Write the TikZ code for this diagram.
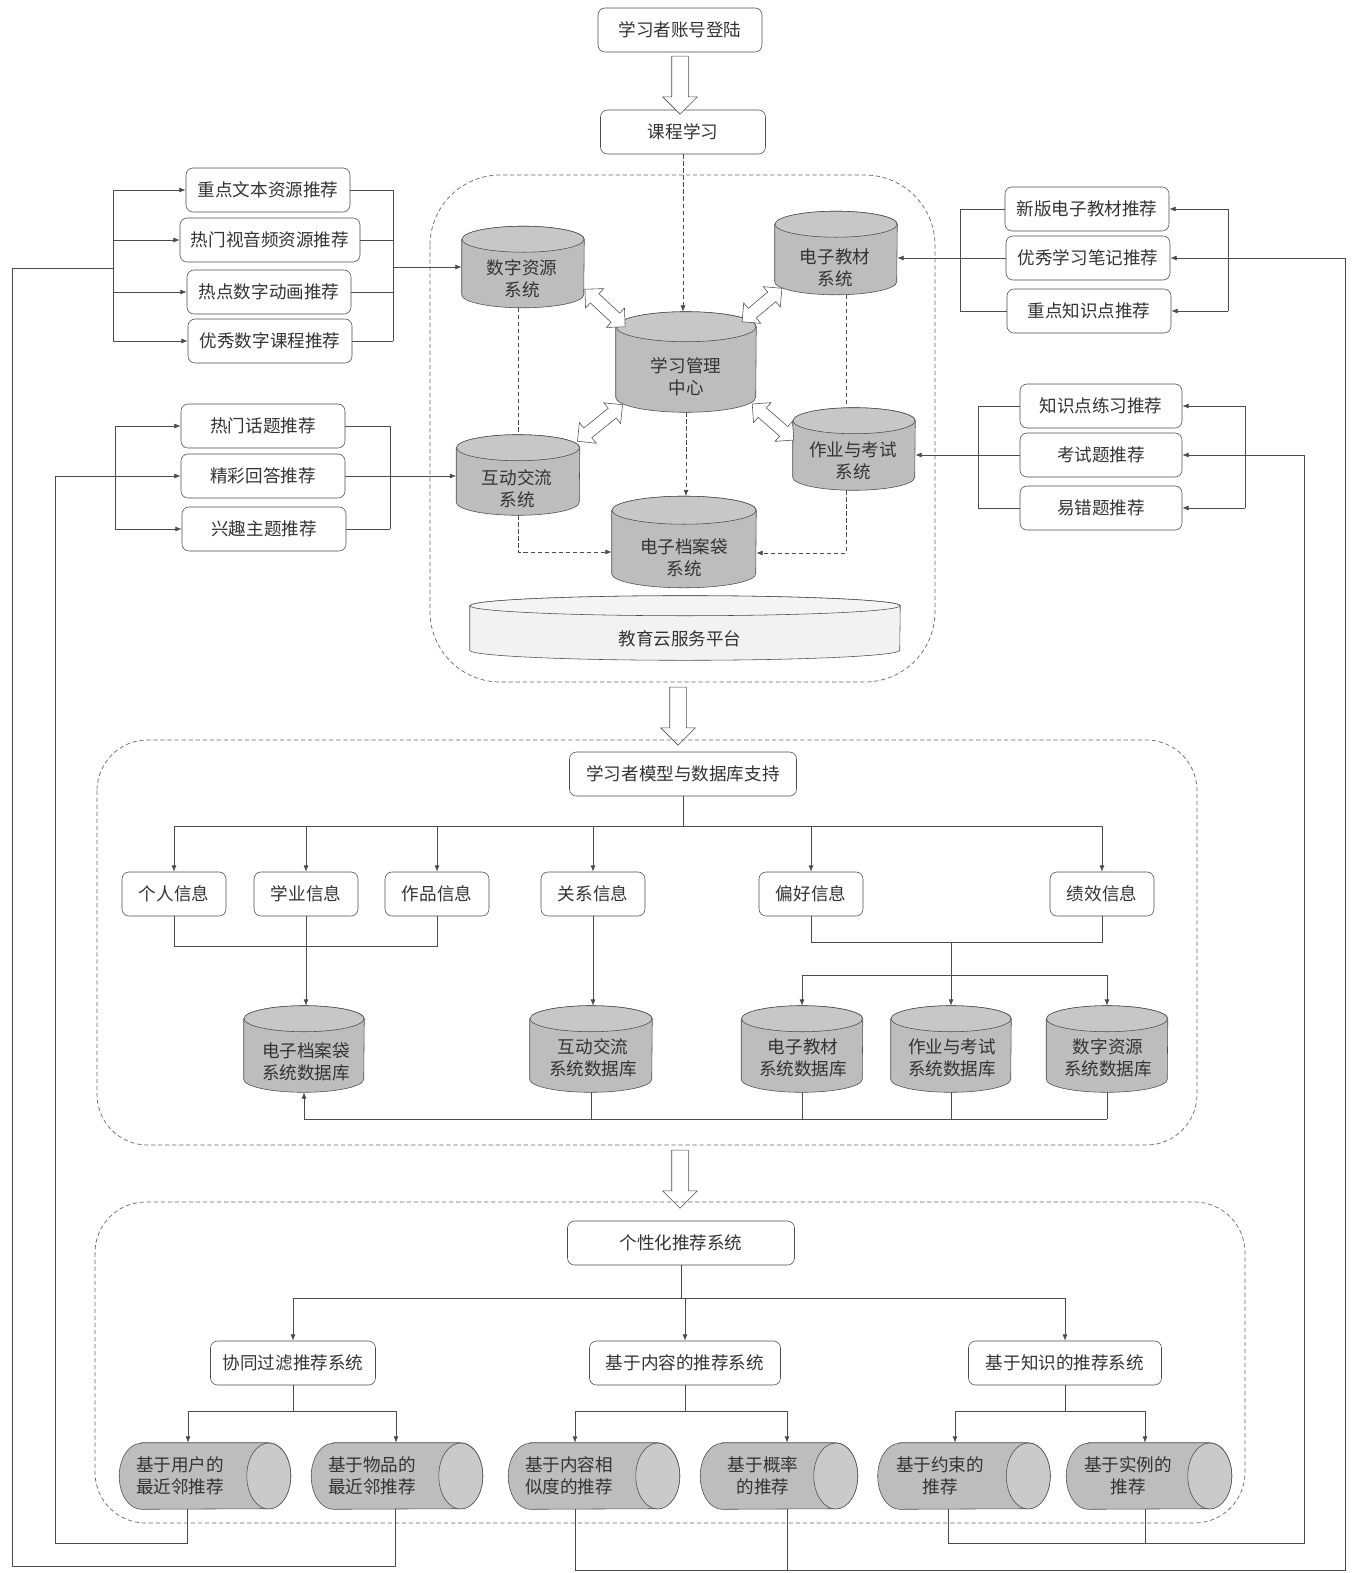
\documentclass[tikz,border=0pt]{standalone}
\usepackage{fontspec}
\setmainfont{Noto Sans CJK SC}
\usetikzlibrary{arrows.meta,shapes.arrows}

\def\pxu{0.025cm}
\definecolor{dbgray}{gray}{0.74}
\definecolor{platgray}{gray}{0.95}
\definecolor{lncol}{gray}{0.3}

% upright cylinder: name, x, y, width, height, radius of the top ellipse
\newcommand{\vcyl}[7][dbgray]{%
    \node[dbbox,minimum width=#5*\pxu,minimum height=#6*\pxu] (#2) at (#3,#4) {};
    \path[draw=lncol,fill=#1] ([yshift=-#7*\pxu]#2.north west) -- ([yshift=#7*\pxu]#2.south west)
        arc[start angle=180,end angle=360,x radius=#5/2*\pxu,y radius=#7*\pxu]
        -- ([yshift=-#7*\pxu]#2.north east)
        arc[start angle=0,end angle=180,x radius=#5/2*\pxu,y radius=#7*\pxu] -- cycle;
    \path[draw=lncol,fill=#1!85] ([yshift=-#7*\pxu]#2.north)
        ellipse[x radius=#5/2*\pxu,y radius=#7*\pxu];
}
% lying cylinder: name, x, y, width
\newcommand{\hcyl}[4]{%
    \node[dbbox,minimum width=#4*\pxu,minimum height=66*\pxu] (#1) at (#2,#3) {};
    \path[draw=lncol,fill=dbgray] ([xshift=22*\pxu]#1.north west) -- ([xshift=-22*\pxu]#1.north east)
        arc[start angle=90,end angle=-90,x radius=22*\pxu,y radius=33*\pxu]
        -- ([xshift=22*\pxu]#1.south west)
        arc[start angle=270,end angle=90,x radius=22*\pxu,y radius=33*\pxu] -- cycle;
    \path[draw=lncol,fill=dbgray!80] ([xshift=-22*\pxu]#1.east)
        ellipse[x radius=22*\pxu,y radius=33*\pxu];
}

\begin{document}
\begin{tikzpicture}[x=0.025cm,y=-0.025cm,
        font=\fontsize{12.5}{15.5}\selectfont,
        box/.style={draw=lncol,rounded corners=5pt,fill=white,text=black!80,
            minimum width=#1*\pxu,minimum height=44*\pxu,inner sep=0pt},
        box/.default=164,
        dbbox/.style={rectangle,inner sep=0pt},
        dbtext/.style={align=center,inner sep=0pt,text=black!80},
        line/.style={draw=lncol,line width=0.5pt},
        arr/.style={line,-{Latex[length=4.5pt,width=3.5pt]}},
        dsh/.style={dash pattern=on 3pt off 2pt},
        sec/.style={draw=black!60,line width=0.5pt,dash pattern=on 3pt off 2pt},
        bigarr/.style={single arrow,draw=lncol,fill=white,rotate=-90,inner xsep=0pt,
            inner ysep=8*\pxu,single arrow head extend=9*\pxu,minimum height=58*\pxu},
        dblarr/.style={double arrow,draw=lncol,fill=white,inner xsep=0pt,
            inner ysep=6*\pxu,double arrow head extend=7*\pxu,minimum height=#1*\pxu},
    ]
    \useasboundingbox (0,0) rectangle (1358,1573);

    % ---- part 1: learning platform
    \node[box] (dl) at (680,30) {学习者账号登陆};
    \node[box=165] (kc) at (683,132) {课程学习};
    \node[bigarr] (ar1) at (680,81) {};

    \draw[sec,rounded corners=50pt] (430,175) rectangle (935,682);

    \vcyl{szzy}{523}{267}{122}{81}{13}
    \node[dbtext] (szzy-t) at (522,279) {数字资源\\系统};
    \vcyl{dzjc}{836}{253}{122}{83}{13}
    \node[dbtext] (dzjc-t) at (835,268) {电子教材\\系统};
    \vcyl{xxgl}{686}{362}{140}{100}{15}
    \node[dbtext] (xxgl-t) at (686,377) {学习管理\\中心};
    \vcyl{hdjl}{518}{475}{123}{80}{13}
    \node[dbtext] (hdjl-t) at (517,489) {互动交流\\系统};
    \vcyl{zykz}{854}{449}{122}{82}{13}
    \node[dbtext] (zykz-t) at (853,461) {作业与考试\\系统};
    \vcyl{dzda}{684}{542}{144}{91}{14}
    \node[dbtext] (dzda-t) at (684,558) {电子档案袋\\系统};
    \vcyl[platgray]{jyy}{685}{628}{430}{64}{10}
    \node[dbtext] (jyy-t) at (680,639) {教育云服务平台};

    \node[dblarr=55,rotate=-43] (da1) at (605,308) {};
    \node[dblarr=52,rotate=40] (da2) at (762,305) {};
    \node[dblarr=58,rotate=39] (da3) at (600,423) {};
    \node[dblarr=55,rotate=-41] (da4) at (773,422) {};

    \draw[arr,dsh] (kc.south) -- (kc.south |- xxgl.north);
    \draw[line,dsh] (szzy.south -| 518,0) -- (hdjl.north -| 518,0);
    \draw[line,dsh] (dzjc.south -| 846,0) -- (zykz.north -| 846,0);
    \draw[arr,dsh] (xxgl.south) -- (xxgl.south |- dzda.north);
    \draw[arr,dsh] (hdjl.south) |- (dzda.west |- 0,552);
    \draw[arr,dsh] (zykz.south -| 846,0) |- (dzda.east |- 0,553);

    % recommendation groups round the platform
    \node[box] (l1) at (268,190) {重点文本资源推荐};
    \node[box=180] (l2) at (270,240) {热门视音频资源推荐};
    \node[box] (l3) at (269,292) {热点数字动画推荐};
    \node[box] (l4) at (270,341) {优秀数字课程推荐};
    \foreach \n in {l1,l2,l3,l4} {
        \draw[arr] (\n.west -| 113,0) -- (\n.west);
        \draw[line] (\n.east) -- (\n.east -| 393,0);
    }
    \draw[line] (l1.west -| 113,0) -- (l4.west -| 113,0);
    \draw[line] (l1.east -| 393,0) -- (l4.east -| 393,0);
    \draw[arr] (szzy.west -| 393,0) -- (szzy.west);

    \node[box] (m1) at (263,426) {热门话题推荐};
    \node[box] (m2) at (263,476) {精彩回答推荐};
    \node[box] (m3) at (264,529) {兴趣主题推荐};
    \foreach \n in {m1,m3} \draw[arr] (\n.west -| 115,0) -- (\n.west);
    \foreach \n in {m1,m2,m3} \draw[line] (\n.east) -- (\n.east -| 390,0);
    \draw[line] (m1.west -| 115,0) -- (m3.west -| 115,0);
    \draw[line] (m1.east -| 390,0) -- (m3.east -| 390,0);
    \draw[arr] (m2.east) -- (m2.east -| hdjl.west);

    \node[box] (r1) at (1087,209) {新版电子教材推荐};
    \node[box] (r2) at (1088,258) {优秀学习笔记推荐};
    \node[box] (r3) at (1089,311) {重点知识点推荐};
    \foreach \n in {r1,r2,r3} \draw[line] (\n.west) -- (\n.west -| 960,0);
    \foreach \n in {r1,r3} \draw[arr] (\n.east -| 1228,0) -- (\n.east);
    \draw[line] (r1.west -| 960,0) -- (r3.west -| 960,0);
    \draw[line] (r1.east -| 1228,0) -- (r3.east -| 1228,0);
    \draw[arr] (r2.west) -- (r2.west -| dzjc.east);

    \node[box=162] (k1) at (1101,406) {知识点练习推荐};
    \node[box=162] (k2) at (1101,455) {考试题推荐};
    \node[box=162] (k3) at (1101,508) {易错题推荐};
    \foreach \n in {k1,k2,k3} \draw[line] (\n.west) -- (\n.west -| 978,0);
    \foreach \n in {k1,k3} \draw[arr] (\n.east -| 1245,0) -- (\n.east);
    \draw[line] (k1.west -| 978,0) -- (k3.west -| 978,0);
    \draw[line] (k1.east -| 1245,0) -- (k3.east -| 1245,0);
    \draw[arr] (k2.west) -- (k2.west -| zykz.east);

    % ---- part 2: learner model
    \node[bigarr] (ar2) at (678,712) {};
    \draw[sec,rounded corners=36pt] (97,740) rectangle (1197,1145);

    \node[box=227] (mx) at (683,774) {学习者模型与数据库支持};
    \node[box=104] (gr) at (174,894) {个人信息};
    \node[box=104] (xy) at (306,894) {学业信息};
    \node[box=104] (zp) at (437,894) {作品信息};
    \node[box=104] (gx) at (593,894) {关系信息};
    \node[box=104] (ph) at (811,894) {偏好信息};
    \node[box=104] (jx) at (1102,894) {绩效信息};
    \draw[line] (mx.south) -- (mx.south |- 0,826);
    \draw[line] (gr.north |- 0,826) -- (jx.north |- 0,826);
    \foreach \n in {gr,xy,zp,gx,ph,jx} \draw[arr] (\n.north |- 0,826) -- (\n.north);

    \vcyl{dadb}{304}{1049}{120}{86}{13}
    \node[dbtext] (dadb-t) at (306,1062) {电子档案袋\\系统数据库};
    \vcyl{hddb}{591}{1049}{122}{86}{13}
    \node[dbtext] (hddb-t) at (593,1058) {互动交流\\系统数据库};
    \vcyl{jcdb}{802}{1049}{121}{86}{13}
    \node[dbtext] (jcdb-t) at (803,1058) {电子教材\\系统数据库};
    \vcyl{zkdb}{951}{1049}{120}{86}{13}
    \node[dbtext] (zkdb-t) at (952,1058) {作业与考试\\系统数据库};
    \vcyl{szdb}{1107}{1049}{121}{86}{13}
    \node[dbtext] (szdb-t) at (1108,1058) {数字资源\\系统数据库};

    \draw[line] (gr.south) -- ++(0,30) -| (zp.south);
    \draw[arr] (xy.south) -- (xy.south |- dadb.north);
    \draw[arr] (gx.south) -- (gx.south |- hddb.north);
    \draw[line] (ph.south) -- ++(0,26) -| (jx.south);
    \draw[arr] (zkdb.north |- 0,942) -- (zkdb.north);
    \draw[line] (jcdb.north |- 0,975) -- (szdb.north |- 0,975);
    \foreach \n in {jcdb,szdb} \draw[arr] (\n.north |- 0,975) -- (\n.north);
    \foreach \n in {hddb,jcdb,zkdb,szdb} \draw[line] (\n.south) -- (\n.south |- 0,1119);
    \draw[arr] (szdb.south |- 0,1119) -| (dadb.south);

    % ---- part 3: recommender
    \node[bigarr] (ar3) at (680,1175) {};
    \draw[sec,rounded corners=36pt] (95,1202) rectangle (1245,1523);

    \node[box=227] (tj) at (681,1243) {个性化推荐系统};
    \node[box=165] (xt) at (293,1363) {协同过滤推荐系统};
    \node[box=191] (nr) at (685,1363) {基于内容的推荐系统};
    \node[box=193] (zs) at (1065,1363) {基于知识的推荐系统};
    \draw[line] (tj.south) -- (tj.south |- 0,1298);
    \draw[line] (xt.north |- 0,1298) -- (zs.north |- 0,1298);
    \foreach \n in {xt,nr,zs} \draw[arr] (\n.north |- 0,1298) -- (\n.north);

    \hcyl{yh}{205}{1476}{171}
    \node[dbtext] (yh-t) at (180,1476) {基于用户的\\最近邻推荐};
    \hcyl{wp}{397}{1476}{171}
    \node[dbtext] (wp-t) at (372,1476) {基于物品的\\最近邻推荐};
    \hcyl{xsd}{594}{1476}{171}
    \node[dbtext] (xsd-t) at (569,1476) {基于内容相\\似度的推荐};
    \hcyl{gl}{779}{1476}{157}
    \node[dbtext] (gl-t) at (763,1476) {基于概率\\的推荐};
    \hcyl{ys}{964}{1476}{172}
    \node[dbtext] (ys-t) at (940,1476) {基于约束的\\推荐};
    \hcyl{sl}{1149}{1476}{165}
    \node[dbtext] (sl-t) at (1128,1476) {基于实例的\\推荐};

    \draw[line] (xt.south) -- (xt.south |- 0,1411);
    \draw[line] (188,1411) -- (396,1411);
    \draw[arr] (188,1411) -- (yh.north -| 188,0);
    \draw[arr] (396,1411) -- (wp.north -| 396,0);
    \draw[line] (nr.south) -- (nr.south |- 0,1411);
    \draw[line] (575,1411) -- (787,1411);
    \draw[arr] (575,1411) -- (xsd.north -| 575,0);
    \draw[arr] (787,1411) -- (gl.north -| 787,0);
    \draw[line] (zs.south) -- (zs.south |- 0,1411);
    \draw[line] (955,1411) -- (1145,1411);
    \draw[arr] (955,1411) -- (ys.north -| 955,0);
    \draw[arr] (1145,1411) -- (sl.north -| 1145,0);

    % feedback lines
    \draw[arr] (yh.south -| 187,0) |- (55,1543) |- (m2.west);
    \draw[line] (wp.south -| 395,0) |- (12,1566) |- (113,268);
    \draw[arr] (xsd.south -| 575,0) |- (1345,1570) |- (r2.east);
    \draw[line] (gl.south -| 787,0) -- (787,1570);
    \draw[arr] (ys.south -| 948,0) |- (1304,1543) |- (k2.east);
    \draw[line] (sl.south -| 1145,0) -- (1145,1543);
\end{tikzpicture}
\end{document}
